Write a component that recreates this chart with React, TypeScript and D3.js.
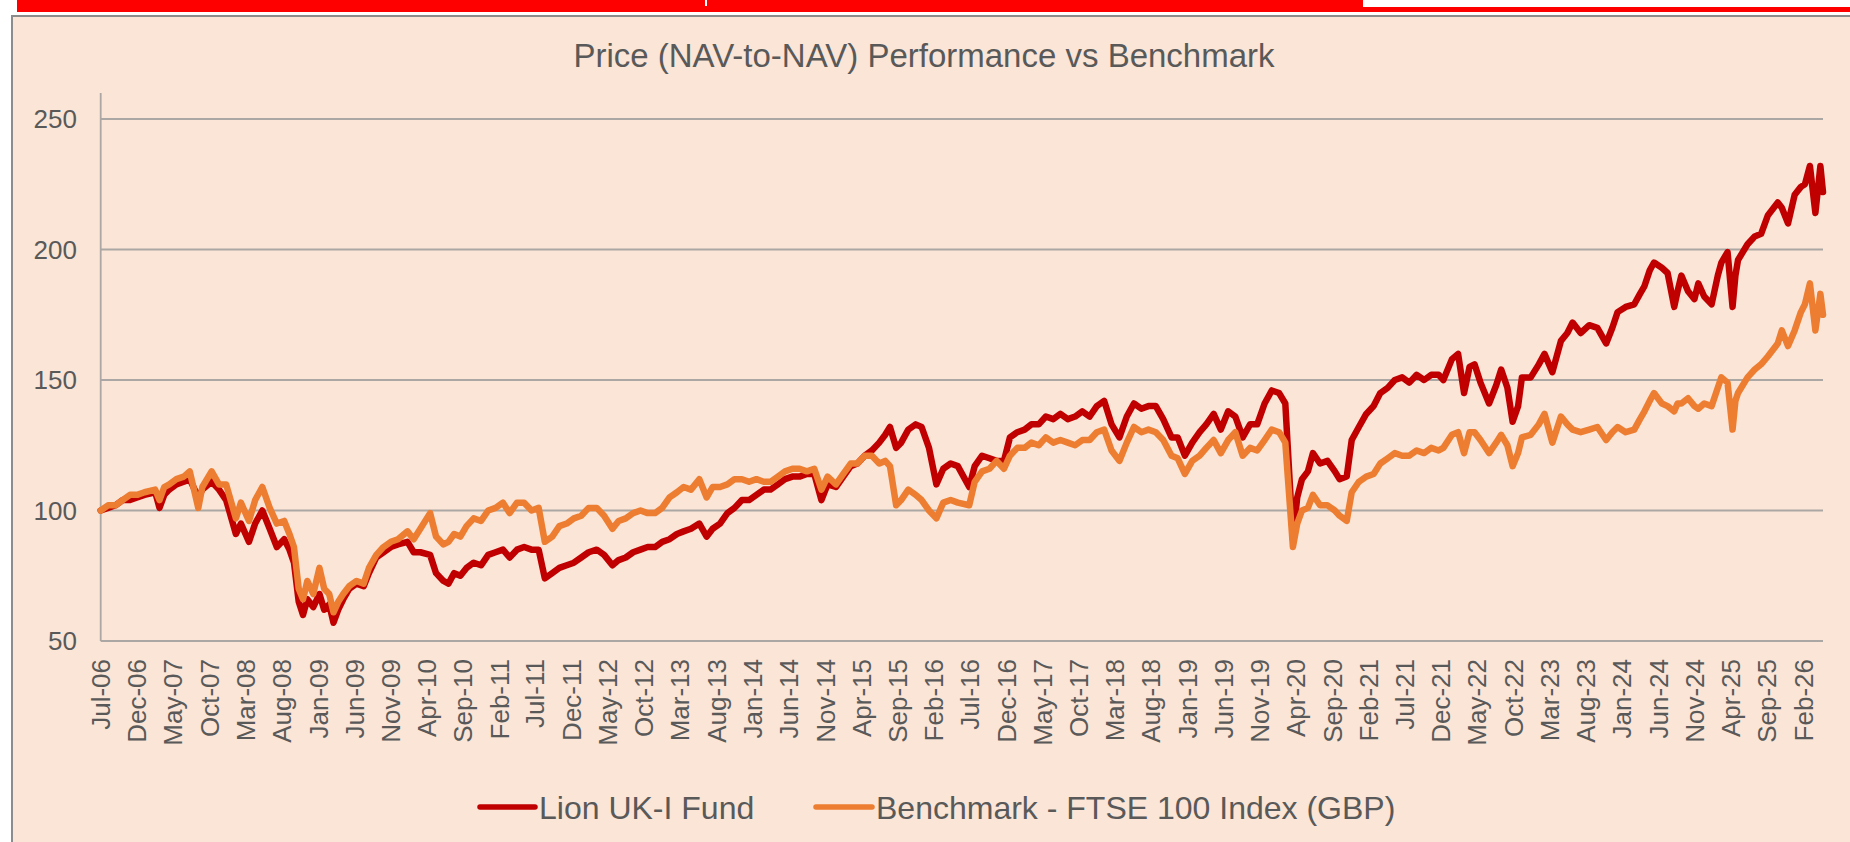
import { useEffect } from "react";
import * as d3 from "d3";

// Lion UK-I Fund (rebased to 100)
const fundDates = [
  "2006-07-01", "2006-08-01", "2006-09-01", "2006-10-01", "2006-11-01", "2006-12-01",
  "2007-01-01", "2007-02-15", "2007-03-05", "2007-03-25", "2007-04-15", "2007-05-15",
  "2007-06-15", "2007-07-10", "2007-08-15", "2007-09-01", "2007-10-10", "2007-11-10",
  "2007-12-10", "2008-01-20", "2008-02-10", "2008-03-15", "2008-04-10", "2008-05-10",
  "2008-06-10", "2008-07-10", "2008-08-10", "2008-09-01", "2008-09-20", "2008-10-10",
  "2008-10-28", "2008-11-15", "2008-12-10", "2009-01-05", "2009-01-25", "2009-02-15",
  "2009-03-05", "2009-03-25", "2009-04-15", "2009-05-10", "2009-06-10", "2009-07-10",
  "2009-08-01", "2009-09-01", "2009-10-01", "2009-11-01", "2009-12-01", "2010-01-10",
  "2010-02-05", "2010-03-05", "2010-04-15", "2010-05-10", "2010-06-10", "2010-07-01",
  "2010-07-25", "2010-08-20", "2010-09-15", "2010-10-15", "2010-11-15", "2010-12-15",
  "2011-01-15", "2011-02-15", "2011-03-15", "2011-04-15", "2011-05-15", "2011-06-15",
  "2011-07-15", "2011-08-10", "2011-09-10", "2011-10-10", "2011-11-10", "2011-12-10",
  "2012-01-10", "2012-02-10", "2012-03-15", "2012-04-15", "2012-05-20", "2012-06-15",
  "2012-07-15", "2012-08-15", "2012-09-15", "2012-10-15", "2012-11-15", "2012-12-15",
  "2013-01-15", "2013-02-15", "2013-03-15", "2013-04-15", "2013-05-20", "2013-06-20",
  "2013-07-15", "2013-08-15", "2013-09-15", "2013-10-15", "2013-11-15", "2013-12-15",
  "2014-01-15", "2014-02-15", "2014-03-15", "2014-04-15", "2014-05-15", "2014-06-15",
  "2014-07-15", "2014-08-15", "2014-09-15", "2014-10-15", "2014-11-10", "2014-12-15",
  "2015-01-15", "2015-02-15", "2015-03-15", "2015-04-15", "2015-05-15", "2015-06-15",
  "2015-07-10", "2015-07-30", "2015-08-25", "2015-09-15", "2015-10-15", "2015-11-15",
  "2015-12-10", "2016-01-10", "2016-02-10", "2016-03-10", "2016-04-10", "2016-05-10",
  "2016-06-27", "2016-07-20", "2016-08-20", "2016-09-20", "2016-10-20", "2016-11-20",
  "2016-12-15", "2017-01-15", "2017-02-15", "2017-03-15", "2017-04-15", "2017-05-15",
  "2017-06-15", "2017-07-15", "2017-08-15", "2017-09-15", "2017-10-15", "2017-11-15",
  "2017-12-15", "2018-01-15", "2018-02-15", "2018-03-20", "2018-04-20", "2018-05-20",
  "2018-06-20", "2018-07-20", "2018-08-20", "2018-09-20", "2018-10-25", "2018-11-20",
  "2018-12-20", "2019-01-20", "2019-02-20", "2019-03-20", "2019-04-20", "2019-05-20",
  "2019-06-20", "2019-07-20", "2019-08-20", "2019-09-20", "2019-10-20", "2019-11-20",
  "2019-12-20", "2020-01-20", "2020-02-15", "2020-03-18", "2020-04-05", "2020-04-25",
  "2020-05-20", "2020-06-10", "2020-07-10", "2020-08-10", "2020-09-10", "2020-09-30",
  "2020-10-30", "2020-11-20", "2020-12-20", "2021-01-20", "2021-02-20", "2021-03-20",
  "2021-04-20", "2021-05-20", "2021-06-20", "2021-07-20", "2021-08-20", "2021-09-20",
  "2021-10-20", "2021-11-20", "2021-12-10", "2022-01-15", "2022-02-10", "2022-03-07",
  "2022-03-30", "2022-04-20", "2022-05-15", "2022-06-20", "2022-07-20", "2022-08-10",
  "2022-09-05", "2022-09-27", "2022-10-20", "2022-11-05", "2022-12-12", "2023-01-15",
  "2023-02-08", "2023-03-13", "2023-04-18", "2023-05-15", "2023-06-06", "2023-07-10",
  "2023-08-15", "2023-09-18", "2023-10-25", "2023-11-20", "2023-12-12", "2024-01-15",
  "2024-02-20", "2024-03-15", "2024-04-03", "2024-04-25", "2024-05-13", "2024-06-15",
  "2024-07-09", "2024-08-06", "2024-08-20", "2024-09-05", "2024-10-03", "2024-10-30",
  "2024-11-15", "2024-12-10", "2025-01-10", "2025-02-05", "2025-02-20", "2025-03-18",
  "2025-04-08", "2025-04-20", "2025-05-01", "2025-06-10", "2025-07-10", "2025-08-06",
  "2025-09-03", "2025-10-15", "2025-11-01", "2025-11-27", "2025-12-25", "2026-01-20",
  "2026-02-06", "2026-02-27", "2026-03-22", "2026-04-12", "2026-04-23",
];
const fundValues = [
  100, 101, 102, 104, 104, 105,
  106, 107, 101, 106, 108, 110,
  111, 112, 105, 108, 111, 108,
  104, 91, 95, 88, 95, 100,
  93, 86, 89, 85, 80, 65,
  60, 66, 63, 68, 62, 64,
  57, 62, 66, 70, 72, 71,
  76, 82, 84, 86, 87, 88,
  84, 84, 83, 76, 73, 72,
  76, 75, 78, 80, 79, 83,
  84, 85, 82, 85, 86, 85,
  85, 74, 76, 78, 79, 80,
  82, 84, 85, 83, 79, 81,
  82, 84, 85, 86, 86, 88,
  89, 91, 92, 93, 95, 90,
  93, 95, 99, 101, 104, 104,
  106, 108, 108, 110, 112, 113,
  113, 114, 114, 104, 110, 109,
  113, 117, 118, 121, 123, 126,
  129, 132, 124, 126, 131, 133,
  132, 124, 110, 116, 118, 117,
  109, 117, 121, 120, 119, 119,
  128, 130, 131, 133, 133, 136,
  135, 137, 135, 136, 138, 136,
  140, 142, 133, 128, 136, 141,
  139, 140, 140, 135, 128, 128,
  121, 126, 130, 133, 137, 131,
  138, 136, 128, 133, 133, 141,
  146, 145, 141, 89, 105, 112,
  115, 122, 118, 119, 115, 112,
  113, 127, 132, 137, 140, 145,
  147, 150, 151, 149, 152, 150,
  152, 152, 150, 158, 160, 145,
  155, 156, 149, 141, 148, 154,
  147, 134, 140, 151, 151, 156,
  160, 153, 165, 168, 172, 168,
  171, 170, 164, 170, 176, 178,
  179, 183, 186, 192, 195, 193,
  191, 178, 184, 190, 184, 181,
  187, 182, 179, 190, 195, 199,
  178, 190, 196, 202, 205, 206,
  213, 218, 216, 210, 221, 224,
  225, 232, 214, 232, 222,
];

// Benchmark - FTSE 100 Index (GBP), same sampling dates
const benchDates = fundDates;
const benchValues = [
  100, 102, 102, 104, 106, 106,
  107, 108, 104, 109, 110, 112,
  113, 115, 101, 109, 115, 110,
  110, 97, 103, 96, 104, 109,
  101, 95, 96, 91, 86, 70,
  66, 73, 68, 78, 70, 68,
  61, 65, 68, 71, 73, 72,
  78, 83, 86, 88, 89, 92,
  89, 93, 99, 90, 87, 88,
  91, 90, 94, 97, 96, 100,
  101, 103, 99, 103, 103, 100,
  101, 88, 90, 94, 95, 97,
  98, 101, 101, 98, 93, 96,
  97, 99, 100, 99, 99, 101,
  105, 107, 109, 108, 112, 105,
  109, 109, 110, 112, 112, 111,
  112, 111, 111, 113, 115, 116,
  116, 115, 116, 108, 113, 110,
  114, 118, 118, 121, 121, 118,
  119, 117, 102, 104, 108, 106,
  104, 100, 97, 103, 104, 103,
  102, 111, 115, 116, 119, 116,
  121, 124, 124, 126, 125, 128,
  126, 127, 126, 125, 127, 127,
  130, 131, 123, 119, 126, 132,
  130, 131, 130, 127, 121, 120,
  114, 119, 121, 124, 127, 122,
  127, 130, 121, 124, 123, 127,
  131, 130, 126, 86, 95, 100,
  101, 106, 102, 102, 100, 98,
  96, 107, 111, 113, 114, 118,
  120, 122, 121, 121, 123, 122,
  124, 123, 124, 129, 130, 122,
  130, 130, 127, 122, 126, 129,
  125, 117, 122, 128, 129, 133,
  137, 126, 136, 133, 131, 130,
  131, 132, 127, 130, 132, 130,
  131, 135, 138, 142, 145, 141,
  140, 138, 141, 141, 143, 140,
  139, 141, 140, 147, 151, 149,
  131, 142, 145, 151, 154, 156,
  159, 164, 169, 163, 169, 176,
  179, 187, 169, 183, 175,
];

const yTicks = [50, 100, 150, 200, 250];
const seriesNames = ["Lion UK-I Fund", "Benchmark - FTSE 100 Index (GBP)"];
const seriesColors = ["#C00000", "#ED7D31"];

const FONT = "'Liberation Sans', Arial, Helvetica, sans-serif";
const TEXT = "#595959";

export default function App() {
  useEffect(() => {
    document.body.style.margin = "0";
    document.body.style.overflow = "hidden";
  }, []);

  const parse = d3.timeParse("%Y-%m-%d");
  const start = new Date(2006, 6, 1);
  const end = parse(fundDates[fundDates.length - 1]) as Date;

  const x = d3.scaleTime().domain([start, end]).range([100.7, 1823]);
  const y = d3.scaleLinear().domain([50, 250]).range([641, 119]);

  // Excel date axis: a label every 5 months from the first month
  const xTicks = d3.timeMonth.range(start, new Date(2026, 2, 1), 5);
  const fmt = d3.timeFormat("%b-%y");

  const line = d3
    .line<[string, number]>()
    .x((d) => x(parse(d[0]) as Date))
    .y((d) => y(d[1]));

  const fund: [string, number][] = fundDates.map((d, i) => [d, fundValues[i]]);
  const bench: [string, number][] = benchDates.map((d, i) => [d, benchValues[i]]);

  return (
    <svg width={1850} height={842} style={{ display: "block" }} fontFamily={FONT}>
      <rect width={1850} height={842} fill="#ffffff" />
      {/* red header strip */}
      <rect x={17} y={0} width={1346} height={12} fill="#FF0000" />
      <rect x={705} y={0} width={2} height={6} fill="#ffffff" />
      <rect x={1363} y={7} width={487} height={5} fill="#FF0000" />

      {/* chart panel */}
      <rect x={12} y={16} width={1850} height={840} fill="#FAE5D7" stroke="#8C8C8C" strokeWidth={2} />

      <text x={924} y={67} textAnchor="middle" fontSize={33} fill={TEXT}>
        Price (NAV-to-NAV) Performance vs Benchmark
      </text>

      {/* gridlines */}
      {yTicks.map((t) => (
        <line key={t} x1={x.range()[0]} x2={x.range()[1]} y1={y(t)} y2={y(t)} stroke="#ABA7A4" strokeWidth={1.8} />
      ))}
      <line x1={x.range()[0]} x2={x.range()[0]} y1={y(260)} y2={y(50)} stroke="#ABA7A4" strokeWidth={1.8} />

      {yTicks.map((t) => (
        <text key={t} x={77} y={y(t)} dy="0.35em" textAnchor="end" fontSize={26} fill={TEXT}>
          {t}
        </text>
      ))}

      {xTicks.map((d) => (
        <text
          key={d.getTime()}
          transform={`translate(${x(d)},659) rotate(-90)`}
          dy="0.35em"
          textAnchor="end"
          fontSize={26}
          fill={TEXT}
        >
          {fmt(d)}
        </text>
      ))}

      <path d={line(fund) ?? ""} fill="none" stroke={seriesColors[0]} strokeWidth={6.5} strokeLinejoin="round" strokeLinecap="round" />
      <path d={line(bench) ?? ""} fill="none" stroke={seriesColors[1]} strokeWidth={6.5} strokeLinejoin="round" strokeLinecap="round" />

      {/* legend */}
      <line x1={480} x2={535} y1={807} y2={807} stroke={seriesColors[0]} strokeWidth={5.5} strokeLinecap="round" />
      <text x={539} y={819} fontSize={32} fill={TEXT}>{seriesNames[0]}</text>
      <line x1={816} x2={872} y1={807} y2={807} stroke={seriesColors[1]} strokeWidth={5.5} strokeLinecap="round" />
      <text x={876} y={819} fontSize={32} fill={TEXT}>{seriesNames[1]}</text>
    </svg>
  );
}
